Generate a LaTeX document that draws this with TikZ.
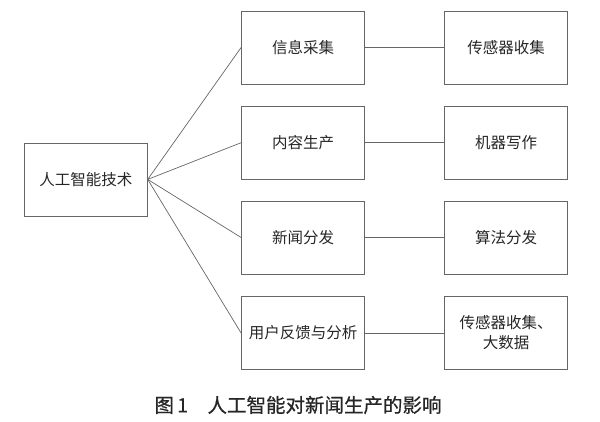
\documentclass[tikz,border=0pt]{standalone}
\usepackage{fontspec}
\newfontfamily\cjk{Noto Sans CJK SC}
\newfontfamily\cjkcap{Noto Sans CJK SC}[FakeBold=0.6]
\begin{document}
\begin{tikzpicture}[x=1pt,y=-1pt,
  box/.style={draw=black!60,line width=0.8pt,minimum width=123pt,minimum height=73pt,inner sep=0pt,font=\cjk\fontsize{15.5}{20}\selectfont,align=center,text=black!85},
  link/.style={draw=black!60,line width=0.7pt}]
\useasboundingbox (0,0) rectangle (600,421);
\node[box] (ai) at (85.8,179.4) {人工智能技术};
\node[box] (m1) at (303,47.5) {信息采集};
\node[box] (m2) at (303,142.7) {内容生产};
\node[box] (m3) at (303,237.5) {新闻分发};
\node[box] (m4) at (303,333) {用户反馈与分析};
\node[box] (r1) at (506.2,47.5) {传感器收集};
\node[box] (r2) at (506.2,142.7) {机器写作};
\node[box] (r3) at (506.2,237.5) {算法分发};
\node[box] (r4) at (506.2,333) {传感器收集、\\大数据};
\foreach \i in {1,2,3,4}{
  \draw[link] (ai.east) -- (m\i.west);
  \draw[link] (m\i.east) -- (r\i.west);
}
\node[font=\cjkcap\fontsize{19.5}{22}\selectfont,text=black!85] (cap) at (298,405) {图\,1\quad 人工智能对新闻生产的影响};
\end{tikzpicture}
\end{document}
